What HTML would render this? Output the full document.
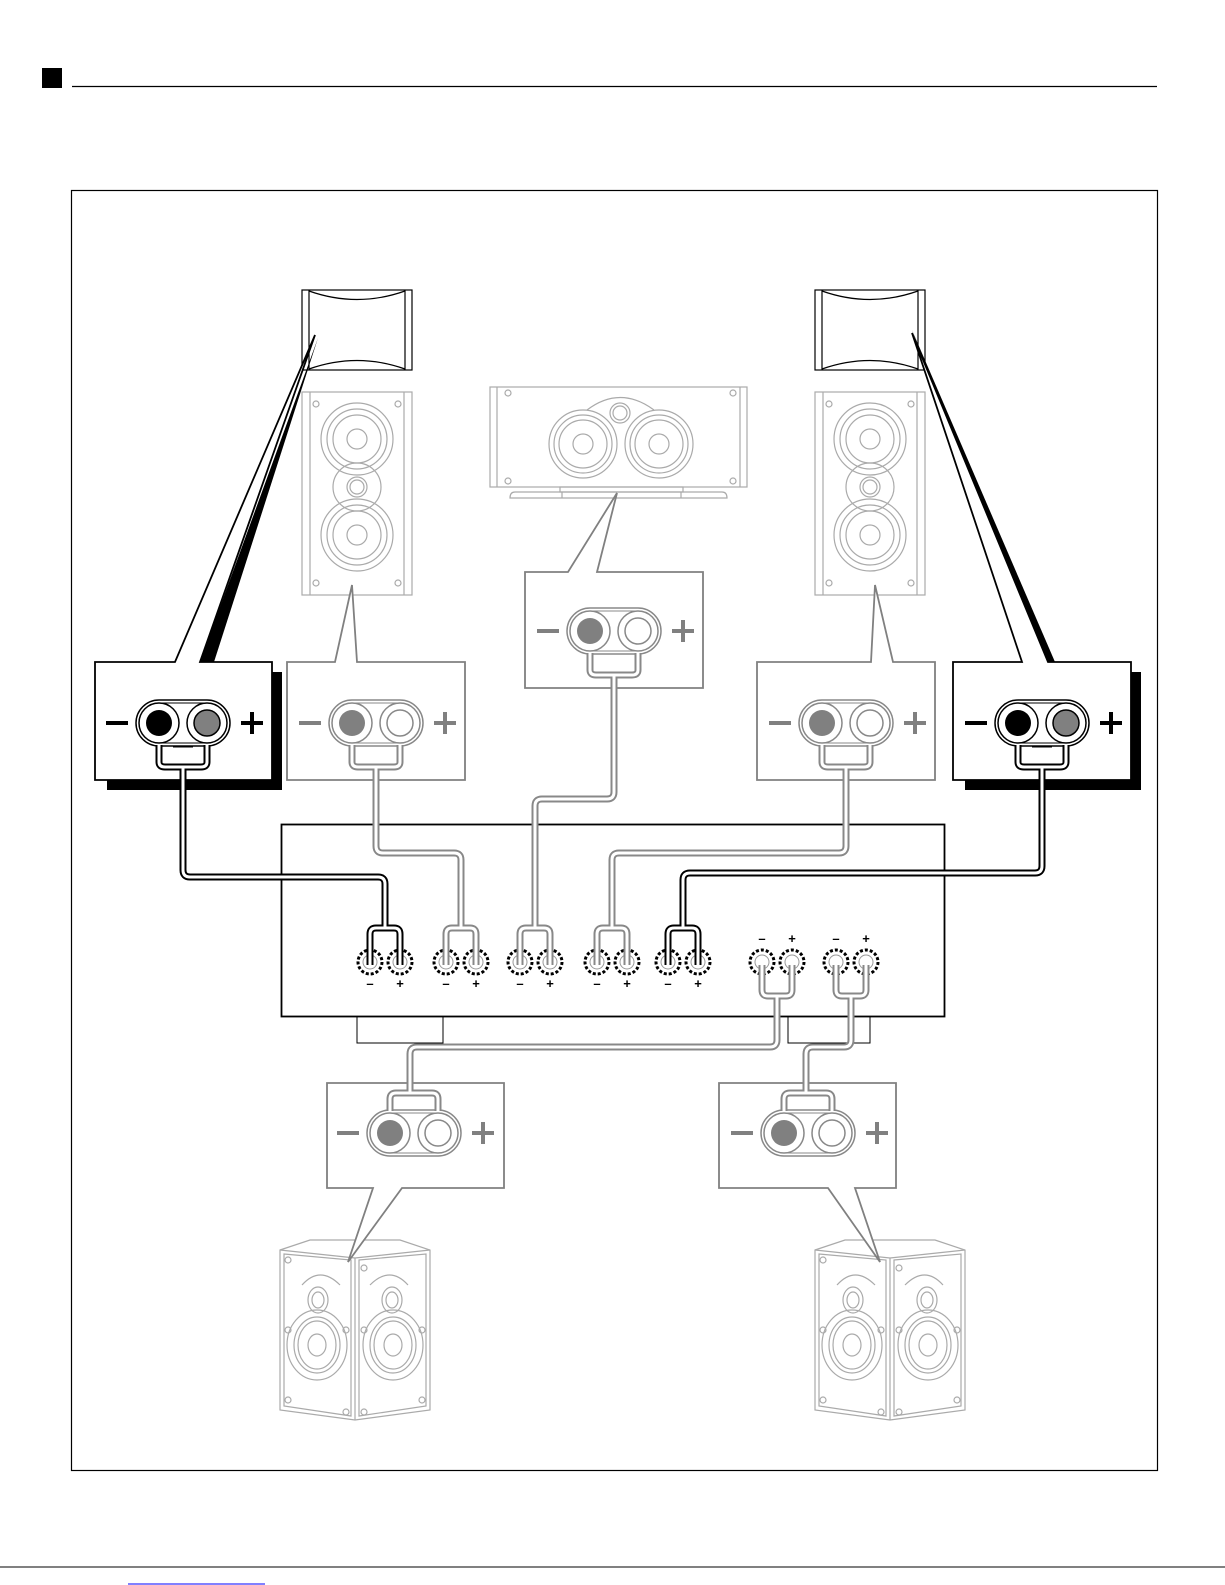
<!DOCTYPE html>
<html><head><meta charset="utf-8"><style>
html,body{margin:0;padding:0;background:#fff}
svg{display:block}
</style></head><body>
<svg width="1225" height="1585" viewBox="0 0 1225 1585" xmlns="http://www.w3.org/2000/svg" font-family="Liberation Sans, sans-serif">
<defs>
<g id="pairB">
  <rect x="-47" y="-23" width="94" height="46" rx="23" fill="#fff" stroke="#000" stroke-width="1.5"/>
  <rect x="-44" y="-20" width="88" height="40" rx="20" fill="none" stroke="#000" stroke-width="1"/>
  <circle cx="-24" cy="0" r="20" fill="#fff" stroke="#000" stroke-width="1.5"/>
  <circle cx="24" cy="0" r="20" fill="#fff" stroke="#000" stroke-width="1.5"/>
  <circle cx="-24" cy="0" r="13" fill="#000"/>
  <circle cx="24" cy="0" r="13" fill="#808080" stroke="#000" stroke-width="1.5"/>
  <line x1="-10" y1="24" x2="10" y2="24" stroke="#000"/>
  <rect x="-77" y="-2" width="22" height="4" fill="#000"/>
  <rect x="58" y="-2" width="22" height="4" fill="#000"/>
  <rect x="67" y="-11" width="4" height="22" fill="#000"/>
</g>
<g id="pairG">
  <rect x="-47" y="-23" width="94" height="46" rx="23" fill="#fff" stroke="#888" stroke-width="1.5"/>
  <rect x="-44" y="-20" width="88" height="40" rx="20" fill="none" stroke="#888" stroke-width="1"/>
  <circle cx="-24" cy="0" r="20" fill="#fff" stroke="#888" stroke-width="1.5"/>
  <circle cx="24" cy="0" r="20" fill="#fff" stroke="#888" stroke-width="1.5"/>
  <circle cx="-24" cy="0" r="13" fill="#808080"/>
  <circle cx="24" cy="0" r="13" fill="#fff" stroke="#888" stroke-width="1.5"/>
  <rect x="-77" y="-2" width="22" height="4" fill="#808080"/>
  <rect x="58" y="-2" width="22" height="4" fill="#808080"/>
  <rect x="67" y="-11" width="4" height="22" fill="#808080"/>
</g>
<g id="ampT">
  <circle cx="0" cy="0" r="12" fill="#fff" stroke="#000" stroke-width="3" stroke-dasharray="3 2"/>
  <circle cx="0" cy="0" r="7" fill="none" stroke="#999" stroke-width="1"/>
</g>
<g id="tall" fill="none" stroke="#aaa" stroke-width="1.2">
  <rect x="0" y="0" width="110" height="203"/>
  <line x1="8" y1="0" x2="8" y2="203"/><line x1="102" y1="0" x2="102" y2="203"/>
  <circle cx="14" cy="12" r="3"/><circle cx="96" cy="12" r="3"/><circle cx="14" cy="191" r="3"/><circle cx="96" cy="191" r="3"/>
  <circle cx="55" cy="47" r="36"/><circle cx="55" cy="47" r="30"/><circle cx="55" cy="47" r="24"/><circle cx="55" cy="47" r="10"/>
  <circle cx="55" cy="95" r="24"/><circle cx="55" cy="95" r="10"/><circle cx="55" cy="95" r="7"/>
  <circle cx="55" cy="143" r="36"/><circle cx="55" cy="143" r="30"/><circle cx="55" cy="143" r="24"/><circle cx="55" cy="143" r="10"/>
</g>
<g id="topbox" fill="none" stroke="#000" stroke-width="1.2">
  <rect x="0" y="0" width="110" height="80" fill="#fff"/>
  <line x1="7" y1="0" x2="7" y2="80"/><line x1="103" y1="0" x2="103" y2="80"/>
  <path d="M7,1 Q55,18 103,1"/><path d="M7,79 Q55,62 103,79"/>
</g>
<g id="surr" fill="none" stroke="#aaa" stroke-width="1.2">
  <path d="M0,10 L30,0 L120,0 L150,10 L150,170 L75,180 L0,170 Z"/>
  <line x1="75" y1="18" x2="75" y2="180"/>
  <path d="M0,10 L75,18 L150,10"/>
  <path d="M4,14 L71,20 L71,176 L4,166 Z"/><path d="M79,20 L146,14 L146,166 L79,176 Z"/>
  <circle cx="8" cy="20" r="3"/><circle cx="8" cy="90" r="3"/><circle cx="8" cy="160" r="3"/><circle cx="66" cy="90" r="3"/><circle cx="66" cy="172" r="3"/>
  <circle cx="84" cy="28" r="3"/><circle cx="84" cy="90" r="3"/><circle cx="84" cy="172" r="3"/><circle cx="142" cy="90" r="3"/><circle cx="142" cy="160" r="3"/>
  <path d="M22,45 Q40,25 60,45"/><ellipse cx="38" cy="60" rx="10" ry="13"/><ellipse cx="38" cy="60" rx="6" ry="8"/>
  <ellipse cx="37" cy="105" rx="30" ry="35"/><ellipse cx="37" cy="105" rx="23" ry="28"/><ellipse cx="37" cy="105" rx="19" ry="24"/><ellipse cx="37" cy="105" rx="9" ry="11"/>
  <path d="M90,45 Q110,25 128,45"/><ellipse cx="112" cy="60" rx="10" ry="13"/><ellipse cx="112" cy="60" rx="6" ry="8"/>
  <ellipse cx="113" cy="105" rx="30" ry="35"/><ellipse cx="113" cy="105" rx="23" ry="28"/><ellipse cx="113" cy="105" rx="19" ry="24"/><ellipse cx="113" cy="105" rx="9" ry="11"/>
</g>
</defs>

<!-- header -->
<rect x="42" y="68" width="20" height="20" fill="#000"/>
<line x1="72" y1="86.5" x2="1157" y2="86.5" stroke="#000" stroke-width="1.2"/>
<rect x="71.5" y="190.5" width="1086" height="1280" fill="none" stroke="#000" stroke-width="1.2"/>
<line x1="0" y1="1567" x2="1225" y2="1567" stroke="#000" stroke-width="1"/>
<line x1="128" y1="1584" x2="265" y2="1584" stroke="#00f" stroke-width="1"/>

<!-- speakers -->
<use href="#topbox" x="302" y="290"/>
<use href="#topbox" x="815" y="290"/>
<use href="#tall" x="302" y="392"/>
<use href="#tall" x="815" y="392"/>
<g fill="none" stroke="#aaa" stroke-width="1.2">
  <rect x="490" y="387" width="257" height="100"/>
  <line x1="497" y1="387" x2="497" y2="487"/><line x1="740" y1="387" x2="740" y2="487"/>
  <circle cx="508" cy="393" r="3"/><circle cx="733" cy="393" r="3"/><circle cx="508" cy="481" r="3"/><circle cx="733" cy="481" r="3"/>
  <path d="M587,410 Q620,385 654,410"/><circle cx="620" cy="413" r="10"/><circle cx="620" cy="413" r="7"/>
  <circle cx="583" cy="444" r="34"/><circle cx="583" cy="444" r="29"/><circle cx="583" cy="444" r="24"/><circle cx="583" cy="444" r="10"/>
  <circle cx="659" cy="444" r="34"/><circle cx="659" cy="444" r="29"/><circle cx="659" cy="444" r="24"/><circle cx="659" cy="444" r="10"/>
  <rect x="560" y="487" width="123" height="5"/>
  <path d="M515,492 H722 Q727,492 727,498 H510 Q510,492 515,492 Z"/>
  <line x1="562" y1="492" x2="562" y2="498"/><line x1="681" y1="492" x2="681" y2="498"/>
</g>
<use href="#surr" x="280" y="1240"/>
<use href="#surr" x="815" y="1240"/>

<!-- black pointer shadows -->
<polygon points="200,662 214,662 318,338 " fill="#000"/>
<polygon points="1040,662 1055,662 912,330" fill="#000"/>

<!-- callout boxes -->
<rect x="107" y="672" width="175" height="118" fill="#000"/>
<rect x="965" y="672" width="176" height="118" fill="#000"/>
<path d="M95,662 H175 L315,335 L200,662 H272 V780 H95 Z" fill="#fff" stroke="#000" stroke-width="1.8"/>
<path d="M953,662 H1022 L912,333 L1048,662 H1131 V780 H953 Z" fill="#fff" stroke="#000" stroke-width="1.8"/>
<g fill="#fff" stroke="#808080" stroke-width="1.8">
  <path d="M287,662 H335 L352,585 L357,662 H465 V780 H287 Z"/>
  <path d="M525,572 H568 L617,493 L597,572 H703 V688 H525 Z"/>
  <path d="M757,662 H871 L875,585 L893,662 H935 V780 H757 Z"/>
  <path d="M327,1083 H504 V1188 H402 L348,1262 L373,1188 H327 Z"/>
  <path d="M719,1083 H896 V1188 H855 L880,1262 L828,1188 H719 Z"/>
</g>

<use href="#pairB" x="183" y="723"/>
<use href="#pairG" x="376" y="723"/>
<use href="#pairG" x="614" y="631"/>
<use href="#pairG" x="846" y="723"/>
<use href="#pairB" x="1042" y="723"/>
<use href="#pairG" x="414" y="1133"/>
<use href="#pairG" x="808" y="1133"/>

<!-- amplifier -->
<rect x="281.5" y="824.5" width="663" height="192" fill="#fff" stroke="#000" stroke-width="1.8"/>
<path d="M357,1017 V1043 H443 V1017 M788,1017 V1043 H870 V1017" fill="none" stroke="#000" stroke-width="1"/>
<g>
  <use href="#ampT" x="370" y="962"/><use href="#ampT" x="400" y="962"/>
  <use href="#ampT" x="446" y="962"/><use href="#ampT" x="476" y="962"/>
  <use href="#ampT" x="520" y="962"/><use href="#ampT" x="550" y="962"/>
  <use href="#ampT" x="597" y="962"/><use href="#ampT" x="627" y="962"/>
  <use href="#ampT" x="668" y="962"/><use href="#ampT" x="698" y="962"/>
  <use href="#ampT" x="762" y="962"/><use href="#ampT" x="792" y="962"/>
  <use href="#ampT" x="836" y="962"/><use href="#ampT" x="866" y="962"/>
</g>
<g font-size="13" font-weight="bold" text-anchor="middle" fill="#000">
  <text x="370" y="988">–</text><text x="400" y="988">+</text>
  <text x="446" y="988">–</text><text x="476" y="988">+</text>
  <text x="520" y="988">–</text><text x="550" y="988">+</text>
  <text x="597" y="988">–</text><text x="627" y="988">+</text>
  <text x="668" y="988">–</text><text x="698" y="988">+</text>
  <text x="762" y="943">–</text><text x="792" y="943">+</text>
  <text x="836" y="943">–</text><text x="866" y="943">+</text>
</g>

<!-- wires -->
<g fill="none" stroke-linejoin="round" stroke-linecap="butt">
  <g stroke="#000" stroke-width="7">
    <path d="M159,745 V762 Q159,767 165,767 H201 Q207,767 207,762 V745 M183,767 V870 Q183,877 190,877 H378 Q385,877 385,884 V928 M370,965 V934 Q370,928 376,928 H394 Q400,928 400,934 V965"/>
    <path d="M1018,745 V762 Q1018,767 1024,767 H1060 Q1066,767 1066,762 V745 M1042,767 V866 Q1042,873 1035,873 H690 Q683,873 683,880 V928 M668,965 V934 Q668,928 674,928 H692 Q698,928 698,934 V965"/>
  </g>
  <g stroke="#fff" stroke-width="3">
    <path d="M159,745 V762 Q159,767 165,767 H201 Q207,767 207,762 V745 M183,767 V870 Q183,877 190,877 H378 Q385,877 385,884 V928 M370,965 V934 Q370,928 376,928 H394 Q400,928 400,934 V965"/>
    <path d="M1018,745 V762 Q1018,767 1024,767 H1060 Q1066,767 1066,762 V745 M1042,767 V866 Q1042,873 1035,873 H690 Q683,873 683,880 V928 M668,965 V934 Q668,928 674,928 H692 Q698,928 698,934 V965"/>
  </g>
  <g stroke="#888" stroke-width="7" id="gw">
    <path d="M352,745 V762 Q352,767 358,767 H394 Q400,767 400,762 V745 M376,767 V846 Q376,853 383,853 H454 Q461,853 461,860 V928 M446,965 V934 Q446,928 452,928 H470 Q476,928 476,934 V965"/>
    <path d="M590,653 V670 Q590,675 596,675 H632 Q638,675 638,670 V653 M614,675 V792 Q614,799 607,799 H542 Q535,799 535,806 V928 M520,965 V934 Q520,928 526,928 H544 Q550,928 550,934 V965"/>
    <path d="M822,745 V762 Q822,767 828,767 H864 Q870,767 870,762 V745 M846,767 V846 Q846,853 839,853 H619 Q612,853 612,860 V928 M597,965 V934 Q597,928 603,928 H621 Q627,928 627,934 V965"/>
    <path d="M762,965 V990 Q762,996 768,996 H786 Q792,996 792,990 V965 M777,996 V1040 Q777,1047 770,1047 H417 Q410,1047 410,1054 V1093 M390,1111 V1099 Q390,1093 396,1093 H432 Q438,1093 438,1099 V1111"/>
    <path d="M836,965 V990 Q836,996 842,996 H860 Q866,996 866,990 V965 M851,996 V1040 Q851,1047 844,1047 H813 Q806,1047 806,1054 V1093 M784,1111 V1099 Q784,1093 790,1093 H826 Q832,1093 832,1099 V1111"/>
  </g>
  <g stroke="#fff" stroke-width="3">
    <path d="M352,745 V762 Q352,767 358,767 H394 Q400,767 400,762 V745 M376,767 V846 Q376,853 383,853 H454 Q461,853 461,860 V928 M446,965 V934 Q446,928 452,928 H470 Q476,928 476,934 V965"/>
    <path d="M590,653 V670 Q590,675 596,675 H632 Q638,675 638,670 V653 M614,675 V792 Q614,799 607,799 H542 Q535,799 535,806 V928 M520,965 V934 Q520,928 526,928 H544 Q550,928 550,934 V965"/>
    <path d="M822,745 V762 Q822,767 828,767 H864 Q870,767 870,762 V745 M846,767 V846 Q846,853 839,853 H619 Q612,853 612,860 V928 M597,965 V934 Q597,928 603,928 H621 Q627,928 627,934 V965"/>
    <path d="M762,965 V990 Q762,996 768,996 H786 Q792,996 792,990 V965 M777,996 V1040 Q777,1047 770,1047 H417 Q410,1047 410,1054 V1093 M390,1111 V1099 Q390,1093 396,1093 H432 Q438,1093 438,1099 V1111"/>
    <path d="M836,965 V990 Q836,996 842,996 H860 Q866,996 866,990 V965 M851,996 V1040 Q851,1047 844,1047 H813 Q806,1047 806,1054 V1093 M784,1111 V1099 Q784,1093 790,1093 H826 Q832,1093 832,1099 V1111"/>
  </g>
</g>
</svg>
</body></html>
